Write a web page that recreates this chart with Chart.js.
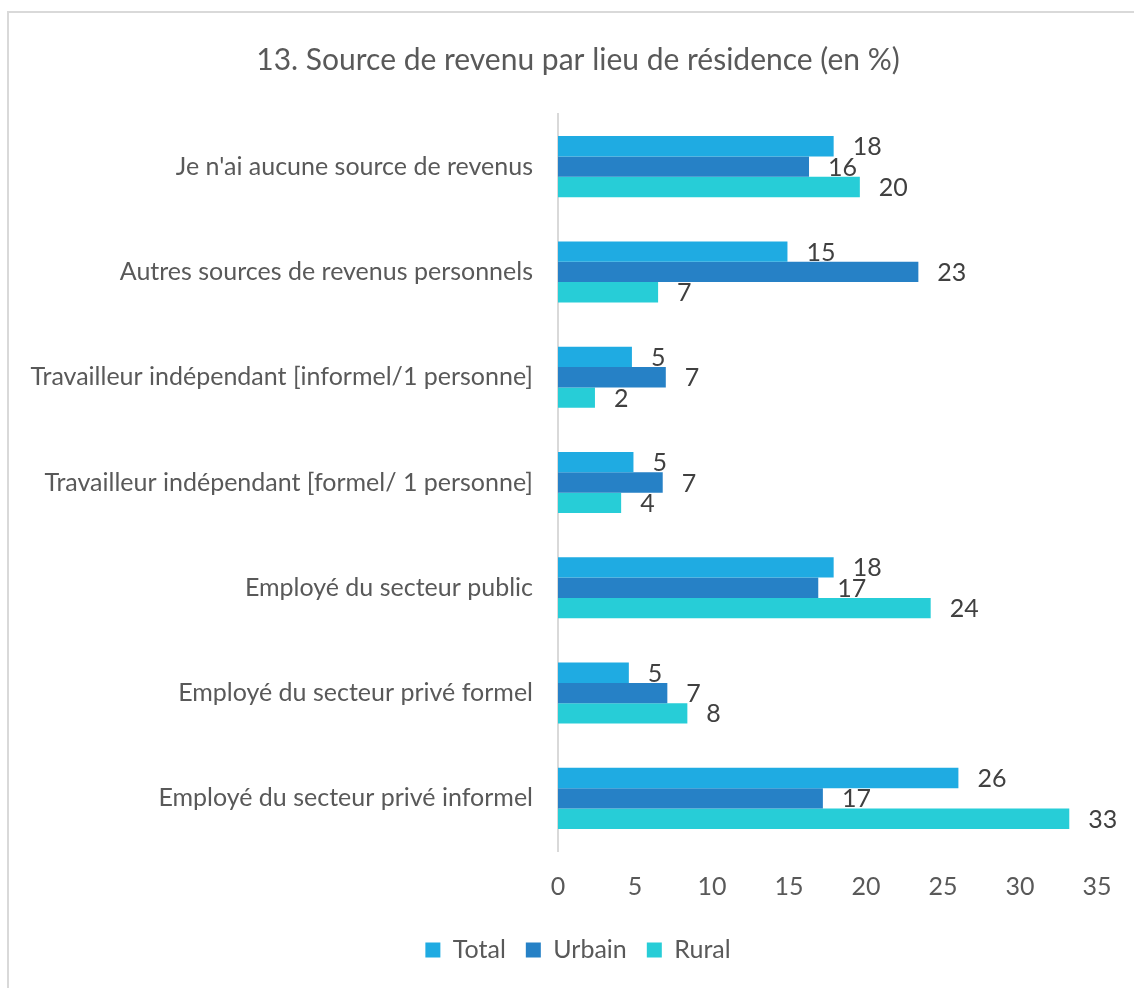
<!DOCTYPE html>
<html>
<head>
<meta charset="utf-8">
<script src="https://cdn.jsdelivr.net/npm/chart.js@4/dist/chart.umd.min.js"></script>
<style>
  html, body { margin: 0; padding: 0; background: #ffffff; }
  #wrap { position: relative; width: 1134px; height: 988px; overflow: hidden; }
  #c { position: absolute; left: 0; top: 0; }
  #frame { position: absolute; left: 7px; top: 11px; width: 1140px; height: 990px;
           border: 2px solid #d9d9d9; box-sizing: border-box; pointer-events: none; }
</style>
</head>
<body>
<div id="wrap">
  <canvas id="c" width="1134" height="988"></canvas>
  <div id="frame"></div>
</div>
<script>
const categories = [
  "Je n'ai aucune source de revenus",
  "Autres sources de revenus personnels",
  "Travailleur indépendant [informel/1 personne]",
  "Travailleur indépendant [formel/ 1 personne]",
  "Employé du secteur public",
  "Employé du secteur privé formel",
  "Employé du secteur privé informel"
];
const totalValues  = [17.9, 14.9, 4.8, 4.9, 17.9, 4.6, 26.0];
const urbainValues = [16.3, 23.4, 7.0, 6.8, 16.9, 7.1, 17.2];
const ruralValues  = [19.6, 6.5, 2.4, 4.1, 24.2, 8.4, 33.2];
const seriesNames  = ["Total", "Urbain", "Rural"];
const xTicks = [0, 5, 10, 15, 20, 25, 30, 35];
const titleText = "13. Source de revenu par lieu de résidence (en %)";

const FONT = "Lato";
const TEXT = "#595959";

const valueLabels = {
  id: 'valueLabels',
  afterDatasetsDraw(chart) {
    const ctx = chart.ctx;
    ctx.save();
    ctx.font = "25px " + FONT;
    ctx.fillStyle = "#404040";
    ctx.textAlign = "left";
    ctx.textBaseline = "middle";
    chart.data.datasets.forEach((ds, i) => {
      const meta = chart.getDatasetMeta(i);
      meta.data.forEach((el, j) => {
        ctx.fillText(String(Math.round(ds.data[j])), el.x + 19, el.y + 1);
      });
    });
    ctx.restore();
  }
};

new Chart(document.getElementById('c'), {
  type: 'bar',
  data: {
    labels: categories,
    datasets: [
      { label: seriesNames[0], data: totalValues,  backgroundColor: '#1FABE2' },
      { label: seriesNames[1], data: urbainValues, backgroundColor: '#2681C6' },
      { label: seriesNames[2], data: ruralValues,  backgroundColor: '#27CDD7' }
    ]
  },
  options: {
    indexAxis: 'y',
    responsive: false,
    animation: false,
    devicePixelRatio: 1,
    layout: { padding: { left: 59, right: 37, top: 0, bottom: 15.5 } },
    datasets: { bar: { barPercentage: 1.0, categoryPercentage: 0.58 } },
    scales: {
      x: {
        min: 0, max: 35,
        afterBuildTicks(scale) { scale.ticks = xTicks.map(v => ({ value: v })); },
        afterFit(scale) { scale.height = 66.5; },
        grid: { display: false, drawTicks: false },
        border: { display: false },
        ticks: { font: { family: FONT, size: 25 }, color: TEXT, padding: 21 }
      },
      y: {
        afterFit(scale) {
          scale.width = 499;
          // let long category labels extend left of the axis box without clipping
          scale._computeLabelArea = () => undefined;
        },
        grid: { display: false, drawTicks: false },
        border: { display: true, color: '#d9d9d9', width: 2 },
        ticks: { font: { family: FONT, size: 25 }, color: TEXT, padding: 25 }
      }
    },
    plugins: {
      title: {
        display: true,
        text: titleText,
        color: TEXT,
        font: { family: FONT, size: 30, weight: 'normal' },
        padding: { top: 42, bottom: 36 }
      },
      legend: {
        position: 'bottom',
        labels: {
          font: { family: FONT, size: 25 },
          color: TEXT,
          boxWidth: 15, boxHeight: 15,
          padding: 20
        }
      },
      tooltip: { enabled: false }
    }
  },
  plugins: [valueLabels]
});
</script>
</body>
</html>
